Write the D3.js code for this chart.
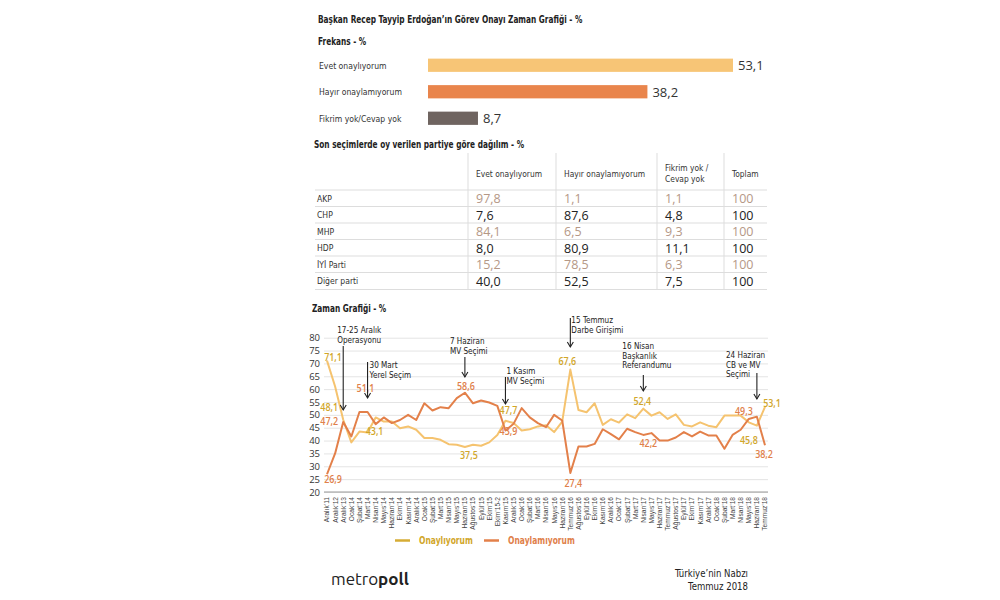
<!DOCTYPE html>
<html>
<head>
<meta charset="utf-8">
<script src="https://cdn.jsdelivr.net/npm/d3@7"></script>
<style>
  body { margin: 0; background: #fff; }
  .cond { font-family: "DejaVu Sans Condensed", "Liberation Sans", sans-serif; }
  .num { font-family: "Open Sans", "Noto Sans", sans-serif; }
</style>
</head>
<body>
<svg id="chart" width="1000" height="600"></svg>
<script>
// frekans
const freqLabels = ["Evet onaylıyorum", "Hayır onaylamıyorum", "Fikrim yok/Cevap yok"]
const freqValues = [53.1, 38.2, 8.7]

// tablo
const tableHeaders = [["Evet onaylıyorum"], ["Hayır onaylamıyorum"], ["Fikrim yok /", "Cevap yok"], ["Toplam"]]
const parties = ["AKP", "CHP", "MHP", "HDP", "İYİ Parti", "Diğer parti"]
const evet = ["97,8", "7,6", "84,1", "8,0", "15,2", "40,0"]
const hayir = ["1,1", "87,6", "6,5", "80,9", "78,5", "52,5"]
const fikrim = ["1,1", "4,8", "9,3", "11,1", "6,3", "7,5"]
const toplam = ["100", "100", "100", "100", "100", "100"]

// zaman grafigi
const months = ["Aralık’11", "Aralık’12", "Aralık’13", "Ocak’14", "Şubat’14", "Mart’14", "Nisan’14", "Mayıs’14",
  "Haziran’14", "Ekim’14", "Kasım’14", "Aralık’14", "Ocak’15", "Şubat’15", "Mart’15", "Nisan’15", "Mayıs’15",
  "Haziran’15", "Ağustos’15", "Eylül’15", "Ekim’15", "Ekim’15-2", "Kasım’15", "Aralık’15", "Ocak’16", "Şubat’16",
  "Mart’16", "Nisan’16", "Mayıs’16", "Haziran’16", "Temmuz’16", "Ağustos’16", "Eylül’16", "Ekim’16", "Kasım’16",
  "Aralık’16", "Ocak’17", "Şubat’17", "Mart’17", "Nisan’17", "Mayıs’17", "Haziran’17", "Temmuz’17", "Ağustos’17",
  "Eylül’17", "Ekim’17", "Kasım’17", "Aralık’17", "Ocak’18", "Şubat’18", "Mart’18", "Nisan’18", "Mayıs’18",
  "Haziran’18", "Temmuz’18"]
const onayliyorum = [71.1, 61, 48.1, 39.3, 43.5, 43.1, 49, 47.4, 47.4, 44.8, 45.5, 44.2, 41, 41, 40.3, 38.6, 38.4,
  37.5, 38.4, 38, 39.3, 42.2, 47.7, 46.8, 43.9, 44.4, 45.5, 46, 43.3, 47.4, 67.6, 51.9, 51, 54.5, 46.1,
  48.3, 47, 50.2, 48.7, 52.4, 49.7, 51, 48.4, 50.2, 46.1, 45.5, 47.1, 45.8, 45.2, 49.7, 49.7, 49.7, 47.1,
  45.8, 53.1]
const onaylamiyorum = [26.9, 35, 47.2, 41.6, 51.1, 51.1, 46.4, 49, 46.8, 48, 50, 48, 54.5, 51.7, 53, 52.6, 56.5,
  58.6, 54.5, 55.6, 54.8, 53.5, 43.9, 46.5, 52.6, 49, 46.8, 45.2, 50, 47.8, 27.4, 37.7, 37.7, 38.7, 44.4,
  42.5, 40.5, 44.6, 43.3, 42.2, 42.9, 40, 40, 41.2, 43.3, 41.6, 43.5, 42, 42, 36.8, 42.2, 44.2, 48.4,
  49.3, 38.2]
const yTicks = [20, 25, 30, 35, 40, 45, 50, 55, 60, 65, 70, 75, 80]

// etiketli noktalar: [seri, indeks]
const valueLabels = [[0, 0], [0, 2], [1, 2], [1, 0], [1, 4], [0, 5], [1, 17], [0, 17], [0, 22], [1, 22],
  [0, 30], [1, 30], [0, 39], [1, 39], [1, 53], [0, 53], [0, 54], [1, 54]]
// etiket kaydirmalari (dx, dy)
const labelOffsets = [[6, 0], [-14, -9], [-14, 3], [6, 9], [6, -20], [7, 2], [1, -3], [4, 12], [3, -7], [3, 4],
  [-3, -5], [3, 14], [-1, -4], [5, 12], [-13, -2], [-8, 18], [7, 0], [-1, 13]]

const events = [
  { i: 2, lines: ["17-25 Aralık", "Operasyonu"] },
  { i: 5, lines: ["30 Mart", "Yerel Seçim"] },
  { i: 17, lines: ["7 Haziran", "MV Seçimi"] },
  { i: 22, lines: ["1 Kasım", "MV Seçimi"] },
  { i: 30, lines: ["15 Temmuz", "Darbe Girişimi"] },
  { i: 39, lines: ["16 Nisan", "Başkanlık", "Referandumu"] },
  { i: 53, lines: ["24 Haziran", "CB  ve MV", "Seçimi"] }
]
// ok ve yazi yerleri: [yazi dx, ilk satir y, ok y1, ok y2]
const eventLayout = [[-6, 333, 346, 410], [2, 368, 362, 398], [-15, 344, 357, 377], [1, 374, 377, 404],
  [1, 323, 318, 347], [-21, 349, 375, 391], [-31, 358, 373, 399]]

const yellow = "#f5c36f", yellowText = "#d1a62a", orange = "#e3804a", orangeText = "#e0804a"

const svg = d3.select("#chart")

// yazilari yatayda daralt
function condense(sel, f) {
  sel.each(function () {
    const w = this.getComputedTextLength()
    d3.select(this).attr("textLength", w * f).attr("lengthAdjust", "spacingAndGlyphs")
  })
  return sel
}

// basliklar
const heading = (x, y, t) => condense(svg.append("text").attr("class", "cond").attr("x", x).attr("y", y)
  .attr("font-size", 10.5).attr("font-weight", "bold").attr("fill", "#222").text(t), 0.78)
heading(318, 23, "Başkan Recep Tayyip Erdoğan’ın Görev Onayı Zaman Grafiği - %")
heading(318, 45, "Frekans - %")
heading(314, 148, "Son seçimlerde oy verilen partiye göre dağılım - %")
heading(312, 312, "Zaman Grafiği - %")

// frekans cubuklari
const xb = d3.scaleLinear().domain([0, 53.1]).range([428, 733])
const yb = d3.scaleBand().domain(freqLabels).range([52, 131.5]).paddingInner(0.5).paddingOuter(0.25)
const barColors = ["#f7c576", "#e9854c", "#6f6460"]

svg.append("g").selectAll("rect").data(freqValues).join("rect")
  .attr("x", xb(0))
  .attr("y", (d, i) => yb(freqLabels[i]))
  .attr("width", d => xb(d) - xb(0))
  .attr("height", yb.bandwidth())
  .attr("fill", (d, i) => barColors[i])

condense(svg.append("g").selectAll("text").data(freqLabels).join("text")
  .attr("class", "cond")
  .attr("x", 319)
  .attr("y", d => yb(d) + yb.bandwidth() / 2 + 3.5)
  .attr("font-size", 9.5).attr("fill", "#333")
  .text(d => d), 0.9)

svg.append("g").selectAll("text").data(freqValues).join("text")
  .attr("class", "num")
  .attr("x", d => xb(d) + 5)
  .attr("y", (d, i) => yb(freqLabels[i]) + yb.bandwidth() / 2 + 5)
  .attr("font-size", 13).attr("fill", "#333")
  .text(d => d.toFixed(1).replace(".", ","))

// tablo
const colX = [468, 556, 657, 724, 767]
const rowY = d3.scaleBand().domain(parties).range([190, 289])
const grid = svg.append("g").attr("stroke", "#ddd").attr("stroke-width", 1)
colX.slice(0, 4).forEach(x => grid.append("line").attr("x1", x).attr("x2", x).attr("y1", 153).attr("y2", 289))
parties.forEach(p => grid.append("line").attr("x1", 315).attr("x2", 767)
  .attr("y1", rowY(p)).attr("y2", rowY(p)))
grid.append("line").attr("x1", 315).attr("x2", 767).attr("y1", 289.5).attr("y2", 289.5)

tableHeaders.forEach((h, c) => {
  h.forEach((line, k) => condense(svg.append("text").attr("class", "cond")
    .attr("x", colX[c] + 8).attr("y", h.length > 1 ? 171 + k * 10.5 : 177)
    .attr("font-size", 9.5).attr("fill", "#333").text(line), 0.88))
})

const cols = [evet, hayir, fikrim, toplam]
parties.forEach((p, r) => {
  const yy = rowY(p) + rowY.bandwidth() / 2
  condense(svg.append("text").attr("class", "cond").attr("x", 317).attr("y", yy + 3.5)
    .attr("font-size", 9.5).attr("fill", "#333").text(p), 0.9)
  cols.forEach((col, c) => svg.append("text").attr("class", "num")
    .attr("x", colX[c] + 8).attr("y", yy + 5)
    .attr("font-size", 12.5).attr("fill", r % 2 === 0 ? "#b59886" : "#222")
    .text(col[r]))
})

// zaman grafigi
const x = d3.scalePoint().domain(months).range([327, 765])
const y = d3.scaleLinear().domain([20, 80]).range([492, 337.7])

svg.append("g")
  .attr("transform", "translate(768,0)")
  .call(d3.axisLeft(y).tickValues(yTicks).tickSize(444).tickPadding(4))
  .call(g => g.select(".domain").remove())
  .call(g => g.selectAll(".tick line").attr("stroke", "#e4e4e4"))
  .call(g => g.selectAll(".tick text").attr("class", "num").attr("font-size", 9.5).attr("fill", "#333"))

svg.append("line").attr("x1", 324).attr("x2", 768).attr("y1", y(20)).attr("y2", y(20))
  .attr("stroke", "#999")

const xAxis = svg.append("g")
  .attr("transform", "translate(0," + y(20) + ")")
  .call(d3.axisBottom(x).tickSize(0).tickPadding(0))
xAxis.select(".domain").remove()
xAxis.selectAll(".tick text")
  .attr("font-family", "Liberation Sans Narrow, Liberation Sans, sans-serif")
  .attr("font-size", 6.6).attr("fill", "#444")
  .attr("text-anchor", "end")
  .attr("dy", "0.3em")
  .attr("transform", "translate(0,5) rotate(-90)")

const line = d3.line().x((d, i) => x(months[i])).y(d => y(d))
const series = [onayliyorum, onaylamiyorum]
const lineColors = [yellow, orange]
svg.append("g").selectAll("path").data(series).join("path")
  .attr("fill", "none")
  .attr("stroke", (d, i) => lineColors[i])
  .attr("stroke-width", 2)
  .attr("stroke-linejoin", "round")
  .attr("d", line)

// deger etiketleri
condense(svg.append("g").selectAll("text").data(valueLabels).join("text")
  .attr("class", "num")
  .attr("x", (d, k) => x(months[d[1]]) + labelOffsets[k][0])
  .attr("y", (d, k) => y(series[d[0]][d[1]]) + labelOffsets[k][1])
  .attr("text-anchor", "middle")
  .attr("font-size", 10.5).attr("font-weight", 600)
  .attr("fill", d => d[0] === 0 ? yellowText : orangeText)
  .text(d => series[d[0]][d[1]].toFixed(1).replace(".", ",")), 0.85)

// olay oklari
events.forEach((e, k) => {
  const ax = x(months[e.i]), L = eventLayout[k]
  const g = svg.append("g")
  e.lines.forEach((t, j) => condense(g.append("text").attr("class", "cond")
    .attr("x", ax + L[0]).attr("y", L[1] + j * 9.5)
    .attr("font-size", 9.5).attr("fill", "#222").text(t), 0.85))
  g.append("line").attr("x1", ax).attr("x2", ax).attr("y1", L[2]).attr("y2", L[3])
    .attr("stroke", "#222").attr("stroke-width", 1.1)
  g.append("path").attr("d", `M${ax - 3},${L[3] - 5}L${ax},${L[3]}L${ax + 3},${L[3] - 5}`)
    .attr("fill", "none").attr("stroke", "#222").attr("stroke-width", 1.1)
})

// lejant
const legend = [["Onaylıyorum", "#d6ac35", yellowText, 395], ["Onaylamıyorum", orange, orangeText, 484]]
legend.forEach(l => {
  svg.append("line").attr("x1", l[3]).attr("x2", l[3] + 15).attr("y1", 540.5).attr("y2", 540.5)
    .attr("stroke", l[1]).attr("stroke-width", 2.5)
  condense(svg.append("text").attr("class", "cond").attr("x", l[3] + 24).attr("y", 544)
    .attr("font-size", 10).attr("font-weight", "bold").attr("fill", l[2]).text(l[0]), 0.84)
})

// alt bilgi
const logo = svg.append("text").attr("x", 331).attr("y", 585)
  .attr("font-family", "Ubuntu, 'Open Sans', sans-serif").attr("font-size", 17).attr("fill", "#222")
logo.append("tspan").text("metro")
logo.append("tspan").attr("font-weight", "bold").text("poll")

condense(svg.append("text").attr("class", "cond").attr("x", 748).attr("y", 577).attr("text-anchor", "end")
  .attr("font-size", 10).attr("fill", "#222").text("Türkiye’nin Nabzı"), 0.95)
condense(svg.append("text").attr("class", "cond").attr("x", 748).attr("y", 590).attr("text-anchor", "end")
  .attr("font-size", 10).attr("fill", "#222").text("Temmuz 2018"), 0.95)
</script>
</body>
</html>
